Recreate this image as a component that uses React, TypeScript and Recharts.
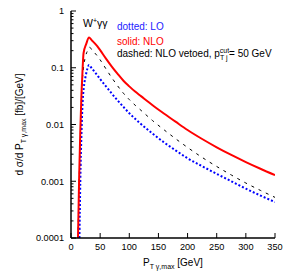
import { LineChart, Line, XAxis, YAxis, Customized } from "recharts";

// pT of the hardest photon [GeV]
const NLO_PT = [12, 14, 16, 18, 20, 21.5, 26, 31, 35, 40, 45, 50, 60, 70, 80, 90, 100, 110, 120, 140, 160, 180, 200, 225, 250, 275, 300, 325, 350];
const NLO_VAL = [0.0001, 0.0012, 0.008, 0.035, 0.1, 0.18, 0.26, 0.34, 0.31, 0.275, 0.24, 0.204, 0.145, 0.105, 0.078, 0.059, 0.047, 0.038, 0.0316, 0.0219, 0.0155, 0.0111, 0.008, 0.00555, 0.00397, 0.00291, 0.00218, 0.00166, 0.00128];

const LO_PT = [14.5, 16, 18, 20, 22, 25, 28, 31, 35, 40, 45, 50, 60, 70, 80, 90, 100, 110, 120, 140, 160, 180, 200, 225, 250, 275, 300, 325, 350];
const LO_VAL = [0.0001, 0.001, 0.007, 0.025, 0.045, 0.07, 0.095, 0.112, 0.1, 0.086, 0.074, 0.063, 0.047, 0.035, 0.0266, 0.0204, 0.0158, 0.0126, 0.0102, 0.0069, 0.0048, 0.00347, 0.00254, 0.00184, 0.00135, 0.001, 0.00074, 0.00056, 0.00043];

const VETO_PT = [12, 14, 16, 18, 20, 22, 25, 29, 32, 36, 40, 45, 50, 60, 70, 80, 90, 100, 110, 120, 140, 160, 180, 200, 225, 250, 275, 300, 325, 350];
const VETO_VAL = [0.0001, 0.001, 0.006, 0.03, 0.07, 0.11, 0.16, 0.205, 0.23, 0.205, 0.186, 0.162, 0.138, 0.0955, 0.0668, 0.0479, 0.0355, 0.0275, 0.0219, 0.0178, 0.0117, 0.008, 0.00556, 0.00394, 0.00263, 0.00182, 0.00129, 0.00093, 0.00069, 0.00052];

const X_TICKS = [0, 50, 100, 150, 200, 250, 300, 350];
const Y_MAJOR = [0.0001, 0.001, 0.01, 0.1, 1];
const Y_LABELS = ["0.0001", "0.001", "0.01", "0.1", "1"];

const Y_MINOR: number[] = [];
for (let k = -4; k < 0; k++) {
  for (let m = 2; m <= 9; m++) Y_MINOR.push(Number((m * 10 ** k).toPrecision(2)));
}
const Y_TICKS = [...Y_MAJOR, ...Y_MINOR].sort((a, b) => a - b);

const toRows = (xs: number[], ys: number[]) => xs.map((pt, i) => ({ pt, v: ys[i] }));
const nlo = toRows(NLO_PT, NLO_VAL);
const lo = toRows(LO_PT, LO_VAL);
const veto = toRows(VETO_PT, VETO_VAL);

const FONT = "'Liberation Sans', Arial, Helvetica, sans-serif";
const frame = { stroke: "#000", strokeWidth: 1.5 };

function LeftTick(props: any) {
  const { x, y, payload } = props;
  const idx = Y_MAJOR.indexOf(payload.value);
  const major = idx >= 0;
  return (
    <g>
      <line x1={x} x2={x + (major ? 5 : 2.5)} y1={y} y2={y} stroke="#000" />
      {major && (
        <text x={x - 7} y={y + 3.3} textAnchor="end" fontSize={9.2} fontFamily={FONT} fill="#000">
          {Y_LABELS[idx]}
        </text>
      )}
    </g>
  );
}

function RightTick(props: any) {
  const { x, y, payload } = props;
  const major = Y_MAJOR.includes(payload.value);
  return <line x1={x} x2={x - (major ? 5 : 2.5)} y1={y} y2={y} stroke="#000" />;
}

function BottomTick(props: any) {
  const { x, y, payload } = props;
  return (
    <g>
      <line x1={x} x2={x} y1={y} y2={y - 5} stroke="#000" />
      <text x={x} y={y + 12} textAnchor="middle" fontSize={9.2} fontFamily={FONT} fill="#000">
        {payload.value}
      </text>
    </g>
  );
}

function TopTick(props: any) {
  const { x, y } = props;
  return <line x1={x} x2={x} y1={y} y2={y + 5} stroke="#000" />;
}

function Labels() {
  return (
    <g fontFamily={FONT} fill="#000">
      <text x={83} y={27} fontSize={10.5}>
        W<tspan fontSize={7} dy={-4}>+</tspan>
        <tspan dy={4}>γγ</tspan>
      </text>
      <text x={117} y={30} fontSize={10} fill="#2222ff">dotted: LO</text>
      <text x={117} y={44.5} fontSize={10} fill="#ff0000">solid: NLO</text>
      <text x={117} y={57} fontSize={10}>
        dashed: NLO vetoed, p
        <tspan fontSize={7} dy={-4}>cut</tspan>
        <tspan fontSize={7} dx={-9.3} dy={7}>T j</tspan>
        <tspan dx={1.5} dy={-3}>= 50 GeV</tspan>
      </text>
      <text x={173} y={266} fontSize={10} textAnchor="middle">
        P<tspan fontSize={7} dy={2.5}>T γ,max</tspan>
        <tspan dy={-2.5}> [GeV]</tspan>
      </text>
      <text x={0} y={0} fontSize={10} textAnchor="middle" transform="translate(23 124.5) rotate(-90)">
        d σ/d P<tspan fontSize={7} dy={2.5}>T γ,max</tspan>
        <tspan dy={-2.5}> [fb]/[GeV]</tspan>
      </text>
    </g>
  );
}

export default function App() {
  return (
    <div style={{ position: "absolute", left: 0, top: 0, width: 289, height: 279, background: "#fff" }}>
      <LineChart width={289} height={279} margin={{ top: 11, right: 14, bottom: 0, left: 0 }}>
        <XAxis
          xAxisId="b"
          type="number"
          dataKey="pt"
          domain={[0, 350]}
          ticks={X_TICKS}
          interval={0}
          allowDataOverflow
          height={41}
          axisLine={frame}
          tickLine={false}
          tickSize={0}
          tickMargin={0}
          tick={<BottomTick />}
        />
        <XAxis
          xAxisId="t"
          orientation="top"
          type="number"
          dataKey="pt"
          domain={[0, 350]}
          ticks={X_TICKS}
          interval={0}
          allowDataOverflow
          height={0}
          axisLine={frame}
          tickLine={false}
          tickSize={0}
          tickMargin={0}
          tick={<TopTick />}
        />
        <YAxis
          yAxisId="l"
          scale="log"
          type="number"
          domain={[0.0001, 1]}
          ticks={Y_TICKS}
          interval={0}
          allowDataOverflow
          width={71}
          axisLine={frame}
          tickLine={false}
          tickSize={0}
          tickMargin={0}
          tick={<LeftTick />}
        />
        <YAxis
          yAxisId="r"
          orientation="right"
          scale="log"
          type="number"
          domain={[0.0001, 1]}
          ticks={Y_TICKS}
          interval={0}
          allowDataOverflow
          width={0}
          axisLine={frame}
          tickLine={false}
          tickSize={0}
          tickMargin={0}
          tick={<RightTick />}
        />
        <Line
          xAxisId="b"
          yAxisId="l"
          data={veto}
          dataKey="v"
          type="monotone"
          stroke="#000"
          strokeWidth={1}
          strokeDasharray="3 5"
          dot={false}
          isAnimationActive={false}
        />
        <Line
          xAxisId="b"
          yAxisId="l"
          data={lo}
          dataKey="v"
          type="monotone"
          stroke="#0000ff"
          strokeWidth={2}
          strokeDasharray="2 2"
          dot={false}
          isAnimationActive={false}
        />
        <Line
          xAxisId="b"
          yAxisId="l"
          data={nlo}
          dataKey="v"
          type="monotone"
          stroke="#ff0000"
          strokeWidth={2}
          dot={false}
          isAnimationActive={false}
        />
        <Customized component={Labels} />
      </LineChart>
    </div>
  );
}
